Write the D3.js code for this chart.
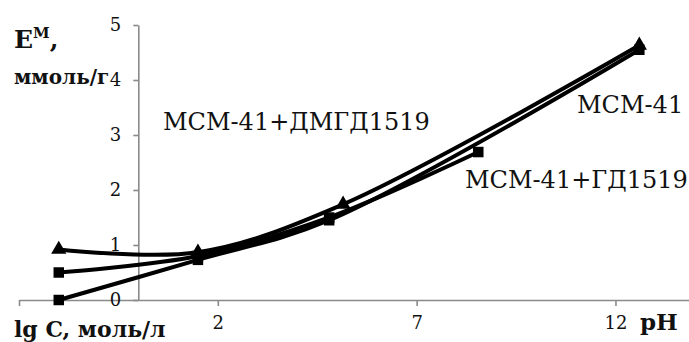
<!DOCTYPE html>
<html>
<head>
<meta charset="utf-8">
<script src="https://cdn.jsdelivr.net/npm/d3@7"></script>
<style>
  body { margin: 0; background: #fff; }
  svg text { font-family: "DejaVu Serif", "Liberation Serif", serif; fill: #111; }
</style>
</head>
<body>
<svg id="chart" width="689" height="342"></svg>
<script>
// tick values
const xTickValues = [-3, 2, 7, 12];
const yTickValues = [0, 1, 2, 3, 4, 5];

// series (pH, E in mmol/g)
const seriesNames = ['МСМ-41+ДМГД1519', 'МСМ-41+ГД1519', 'МСМ-41'];
const seriesMarkers = ['triangle', 'square', 'square'];
const phDmgd = [-2, 1.5, 5.15, 12.6];
const eDmgd = [0.92, 0.87, 1.74, 4.63];
const phGd = [-2, 1.5, 4.8, 8.55];
const eGd = [0.5, 0.8, 1.5, 2.69];
const phMcm = [-2, 1.5, 4.8, 12.6];
const eMcm = [0, 0.73, 1.45, 4.55];

const serif = '"DejaVu Serif", "Liberation Serif", serif';
const svg = d3.select('#chart').attr('font-family', serif);

const xScale = d3.scaleLinear().domain([-3, 14]).range([19, 695]);
const yScale = d3.scaleLinear().domain([0, 5]).range([300, 25]);

const series = [
  {name: seriesNames[0], marker: seriesMarkers[0], xs: phDmgd, ys: eDmgd},
  {name: seriesNames[1], marker: seriesMarkers[1], xs: phGd, ys: eGd},
  {name: seriesNames[2], marker: seriesMarkers[2], xs: phMcm, ys: eMcm}
].map(s => ({...s, points: s.xs.map((x, i) => ({x: x, y: s.ys[i]}))}));

// axes
const xAxisG = svg.append('g')
  .attr('transform', `translate(0, ${yScale(0)})`)
  .call(d3.axisBottom(xScale)
    .tickValues(xTickValues)
    .tickSize(6)
    .tickSizeOuter(0)
    .tickFormat(d => d === -3 ? '' : d3.format('d')(d)));
xAxisG.attr('font-family', serif);
xAxisG.select('.domain').attr('stroke', '#8a8a8a').attr('stroke-width', 1.6);
xAxisG.selectAll('.tick line').attr('stroke', '#8a8a8a').attr('stroke-width', 1.6);
xAxisG.selectAll('.tick text')
  .attr('y', 16)
  .style('font-size', '18px');

const yAxisG = svg.append('g')
  .attr('transform', `translate(${xScale(0)}, 0)`)
  .call(d3.axisLeft(yScale)
    .tickValues(yTickValues)
    .tickSize(5)
    .tickSizeOuter(0)
    .tickFormat(d3.format('d')));
yAxisG.attr('font-family', serif);
yAxisG.select('.domain').attr('stroke', '#8a8a8a').attr('stroke-width', 1.6);
yAxisG.selectAll('.tick text')
  .attr('x', -17)
  .style('font-size', '18px');
yAxisG.selectAll('.tick line').attr('stroke', '#8a8a8a').attr('stroke-width', 1.6);

// lines
const line = d3.line()
  .x(d => xScale(d.x))
  .y(d => yScale(d.y))
  .curve(d3.curveCatmullRom.alpha(0.5));

svg.append('g').selectAll('path')
  .data(series)
  .enter().append('path')
    .attr('d', d => line(d.points))
    .attr('fill', 'none')
    .attr('stroke', '#000')
    .attr('stroke-width', 4);

// markers
const triangle = d3.symbol().type(d3.symbolTriangle).size(100);
const square = d3.symbol().type(d3.symbolSquare).size(110);
series.forEach(s => {
  svg.append('g').selectAll('path')
    .data(s.points)
    .enter().append('path')
      .attr('transform', d => `translate(${xScale(d.x)}, ${yScale(d.y)})`)
      .attr('d', s.marker === 'triangle' ? triangle() : square())
      .attr('fill', '#000');
});

// series labels
svg.append('text').attr('x', 163).attr('y', 130)
  .style('font-size', '24px').text(seriesNames[0]);
svg.append('text').attr('x', 465).attr('y', 188)
  .style('font-size', '24px').text(seriesNames[1]);
svg.append('text').attr('x', 577).attr('y', 113)
  .style('font-size', '24px').text(seriesNames[2]);

// axis titles
const eTitle = svg.append('text').attr('x', 14).attr('y', 48)
  .style('font-size', '25px').style('font-weight', 'bold');
eTitle.append('tspan').text('E');
eTitle.append('tspan').attr('dy', -10).style('font-size', '15px').text('М');
eTitle.append('tspan').attr('dy', 10).text(',');

svg.append('text').attr('x', 14).attr('y', 84)
  .style('font-size', '20px').style('font-weight', 'bold')
  .text('ммоль/г');

svg.append('text').attr('x', 14).attr('y', 337)
  .style('font-size', '22px').style('font-weight', 'bold')
  .text('lg C, моль/л');

svg.append('text').attr('x', 640).attr('y', 330)
  .style('font-size', '23px').style('font-weight', 'bold')
  .text('pH');
</script>
</body>
</html>
